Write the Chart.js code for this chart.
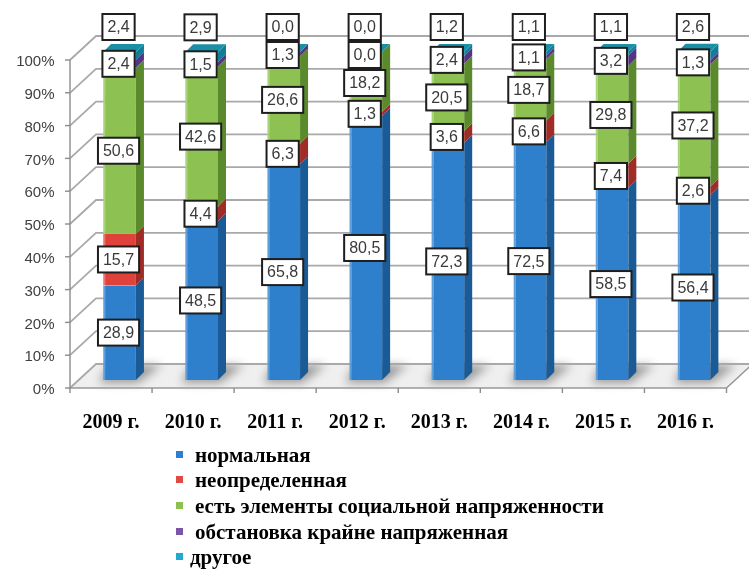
<!DOCTYPE html>
<html><head><meta charset="utf-8">
<script src="https://cdn.jsdelivr.net/npm/chart.js@4/dist/chart.umd.min.js"></script>
<style>
html,body{margin:0;padding:0;background:#fff;}
#wrap{position:relative;width:749px;height:572px;overflow:hidden;}
#legend{position:absolute;left:0;top:0;width:749px;}
.li{position:absolute;white-space:nowrap;font-family:"Liberation Serif","Times New Roman",serif;font-weight:bold;font-size:21px;color:#000;line-height:26px;height:26px;}
.mk{position:absolute;width:7px;height:7px;}
</style></head><body>
<div id="wrap"><canvas id="c" width="749" height="572"></canvas><div id="legend"></div></div>
<script>
// ---- data ----
const categories = ['2009 г.','2010 г.','2011 г.','2012 г.','2013 г.','2014 г.','2015 г.','2016 г.'];
const seriesNames = ['нормальная','неопределенная','есть элементы социальной напряженности','обстановка крайне напряженная','другое'];
const normal    = [28.9, 48.5, 65.8, 80.5, 72.3, 72.5, 58.5, 56.4];
const uncertain = [15.7,  4.4,  6.3,  1.3,  3.6,  6.6,  7.4,  2.6];
const tension   = [50.6, 42.6, 26.6, 18.2, 20.5, 18.7, 29.8, 37.2];
const extreme   = [ 2.4,  1.5,  1.3,  0.0,  2.4,  1.1,  3.2,  1.3];
const other     = [ 2.4,  2.9,  0.0,  0.0,  1.2,  1.1,  1.1,  2.6];
const yTickValues = [0,10,20,30,40,50,60,70,80,90,100];

// ---- styles ----
const frontColors = ['#2e80cd','#df413b','#8dc152','#7b50a8','#1fa9cb'];
const edgeColors  = ['#5fa0dc','#ea7470','#a9d27a','#9a78c0','#5cc3dc'];
const sideColors  = ['#1a5a96','#a02b27','#5a8a2b','#553583','#137c96'];
const topColors   = ['#4b93d6','#e86560','#a4cf72','#9571bb','#1b8fa5'];
const legendColors= ['#2e7fcf','#e04a43','#8cc04f','#7c55a9','#23a9cc'];
const series = [normal, uncertain, tension, extreme, other];

const DX = 8, DY = 8;          // bar depth
const FX = -8.5, FY = 8;       // bar plane -> front plane
const BX = 26, BY = -24;       // front plane -> back wall

const fmt = v => v.toFixed(1).replace('.', ',');

const threeD = {
  id: 'threeD',
  beforeDatasetsDraw(chart) {
    const ctx = chart.ctx, ys = chart.scales.y, xs = chart.scales.x;
    const x0 = xs.left + FX, x1 = xs.right + FX;
    const yf = v => ys.getPixelForValue(v) + FY;
    ctx.save();
    // floor
    const f0 = yf(0);
    ctx.beginPath();
    ctx.moveTo(x0, f0); ctx.lineTo(x1, f0); ctx.lineTo(x1 + BX, f0 + BY); ctx.lineTo(x0 + BX, f0 + BY); ctx.closePath();
    ctx.fillStyle = '#efefef'; ctx.fill();
    // bar shadows on floor
    ctx.save();
    ctx.filter = 'blur(5px)';
    ctx.fillStyle = 'rgba(0,0,0,0.36)';
    const meta0 = chart.getDatasetMeta(0);
    meta0.data.forEach(el => {
      const l = el.x - el.width / 2, r = el.x + el.width / 2, b = el.base;
      ctx.beginPath();
      ctx.moveTo(l - 4, b + 3); ctx.lineTo(r + 2, b + 3);
      ctx.lineTo(r + DX + 18, b - DY - 7); ctx.lineTo(l + 6, b - DY - 7); ctx.closePath();
      ctx.fill();
    });
    ctx.restore();
    // gridlines (diagonal + back wall)
    ctx.strokeStyle = '#a9a9a9'; ctx.lineWidth = 1.8;
    yTickValues.forEach(v => {
      const y = yf(v);
      ctx.beginPath();
      ctx.moveTo(x0, y); ctx.lineTo(x0 + BX, y + BY); ctx.lineTo(chart.width, y + BY);
      ctx.stroke();
    });
    // front floor edge and right side
    ctx.strokeStyle = '#999'; ctx.lineWidth = 1.6;
    ctx.beginPath();
    ctx.moveTo(x0, f0); ctx.lineTo(x1, f0); ctx.lineTo(x1 + BX, f0 + BY); ctx.stroke();
    // front vertical axis with ticks
    ctx.strokeStyle = '#8c8c8c'; ctx.lineWidth = 1.4;
    ctx.beginPath(); ctx.moveTo(x0, yf(0)); ctx.lineTo(x0, yf(100)); ctx.stroke();
    yTickValues.forEach(v => {
      ctx.beginPath(); ctx.moveTo(x0 - 5, yf(v)); ctx.lineTo(x0, yf(v)); ctx.stroke();
    });
    // x ticks at category boundaries
    const n = categories.length, cw = (xs.right - xs.left) / n;
    for (let k = 0; k <= n; k++) {
      const x = x0 + k * cw;
      ctx.beginPath(); ctx.moveTo(x, f0); ctx.lineTo(x, f0 + 5); ctx.stroke();
    }
    ctx.restore();
  },
  afterDatasetsDraw(chart) {
    const ctx = chart.ctx, ys = chart.scales.y;
    const metas = series.map((_, i) => chart.getDatasetMeta(i));
    ctx.save();
    // side faces
    metas.forEach((meta, i) => {
      meta.data.forEach(el => {
        if (el.base - el.y < 0.3) return;
        const r = el.x + el.width / 2;
        ctx.beginPath();
        ctx.moveTo(r, el.y); ctx.lineTo(r + DX, el.y - DY);
        ctx.lineTo(r + DX, el.base - DY); ctx.lineTo(r, el.base); ctx.closePath();
        ctx.fillStyle = sideColors[i]; ctx.fill();
      });
    });
    // top faces (top of the last series, even when it is empty)
    const lastIdx = series.length - 1;
    categories.forEach((c, j) => {
      const elTop = metas[lastIdx].data[j];
      const l = elTop.x - elTop.width / 2, r = elTop.x + elTop.width / 2, y = elTop.y;
      ctx.beginPath();
      ctx.moveTo(l, y); ctx.lineTo(l + DX, y - DY); ctx.lineTo(r + DX, y - DY); ctx.lineTo(r, y); ctx.closePath();
      ctx.fillStyle = topColors[lastIdx]; ctx.fill();
    });
    // data labels
    ctx.font = '16px "Liberation Sans", Arial, sans-serif';
    ctx.textAlign = 'center'; ctx.textBaseline = 'middle';
    const H = 28;
    categories.forEach((c, j) => {
      const sum = series.reduce((a, s) => a + s[j], 0);
      const stackTop = ys.getPixelForValue(Math.min(sum, 100));
      let prev = null;
      for (let i = series.length - 1; i >= 0; i--) {
        const el = metas[i].data[j];
        const center = (el.y + el.base) / 2;
        let ly = (prev === null) ? stackTop - 25 : Math.max(center, prev + H);
        prev = ly;
        const txt = fmt(series[i][j]);
        const w = ctx.measureText(txt).width + 10;
        const lx = el.x - 1;
        ctx.fillStyle = '#fff';
        ctx.fillRect(lx - w / 2, ly - H / 2 + 1, w, H - 2);
        ctx.strokeStyle = '#1e1e1e'; ctx.lineWidth = 2;
        ctx.strokeRect(lx - w / 2, ly - H / 2 + 1, w, H - 2);
        ctx.fillStyle = '#3a3a3a';
        ctx.fillText(txt, lx, ly + 1);
      }
    });
    ctx.restore();
  }
};

const chart = new Chart(document.getElementById('c'), {
  type: 'bar',
  data: {
    labels: categories,
    datasets: series.map((s, i) => ({
      label: seriesNames[i],
      data: s,
      backgroundColor: frontColors[i],
      borderColor: edgeColors[i],
      borderWidth: {left: 2, top: 0, right: 0, bottom: 0},
      borderSkipped: false,
      barPercentage: 0.4,
      categoryPercentage: 1.0
    }))
  },
  options: {
    responsive: false,
    devicePixelRatio: 1,
    animation: false,
    layout: {padding: {top: 52, right: 14, left: 0, bottom: 0}},
    plugins: {legend: {display: false}, tooltip: {enabled: false}, title: {display: false}},
    scales: {
      x: {
        stacked: true,
        grid: {display: false},
        border: {display: false},
        ticks: {
          font: {family: "'Liberation Serif', 'Times New Roman', serif", weight: 'bold', size: 20},
          color: '#000', padding: 23, labelOffset: FX, maxRotation: 0, autoSkip: false
        },
        afterFit(s) { s.height = 192; }
      },
      y: {
        stacked: true, min: 0, max: 100,
        grid: {display: false},
        border: {display: false},
        afterBuildTicks(s) { s.ticks = yTickValues.map(v => ({value: v})); },
        ticks: {
          callback: v => v + '%',
          font: {family: "'Liberation Sans', Arial, sans-serif", size: 15},
          color: '#404040', padding: 16, labelOffset: 10
        },
        afterFit(s) { s.width = 78.5; }
      }
    }
  },
  plugins: [threeD]
});

// ---- legend (HTML text) ----
const legend = document.getElementById('legend');
const legendTop = [455, 480, 506, 532, 557];
seriesNames.forEach((name, i) => {
  const mk = document.createElement('div');
  mk.className = 'mk';
  mk.style.left = '176px';
  mk.style.top = (legendTop[i] - 4) + 'px';
  mk.style.background = legendColors[i];
  legend.appendChild(mk);
  const t = document.createElement('div');
  t.className = 'li';
  t.style.left = (i === 4 ? 190 : 195) + 'px';
  t.style.top = (legendTop[i] - 13) + 'px';
  t.textContent = name;
  legend.appendChild(t);
});
</script>
</body></html>
